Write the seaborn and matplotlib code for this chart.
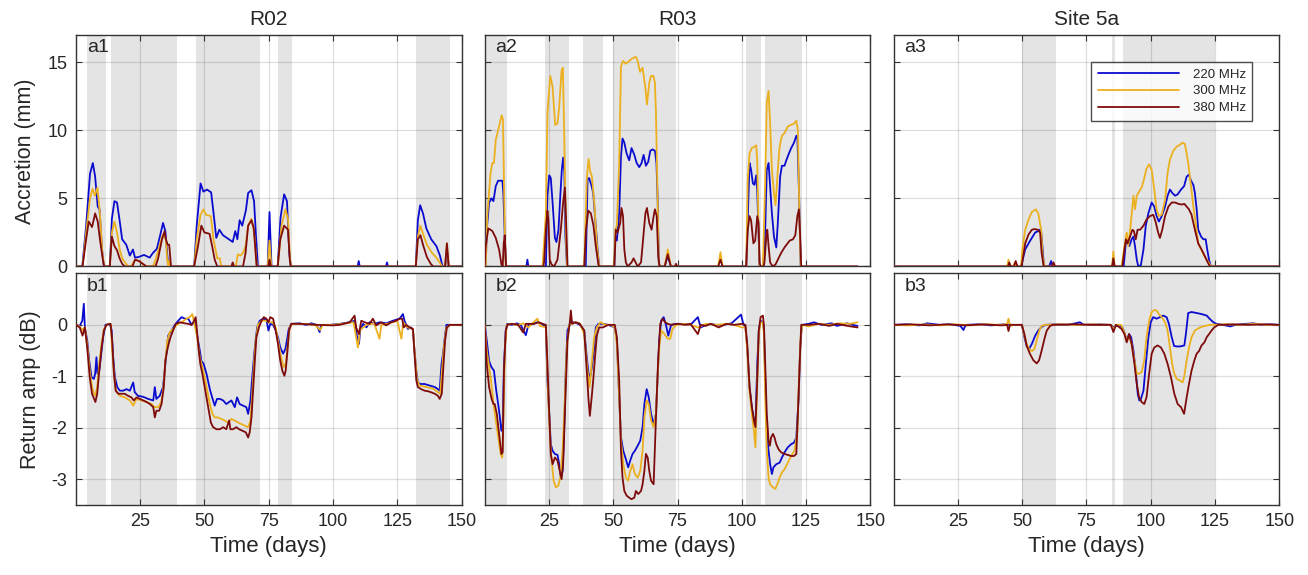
import matplotlib
matplotlib.use("Agg")
import matplotlib.pyplot as plt
import seaborn as sns
import pandas as pd

# ---------------- data ----------------
sites = ["R02", "R03", "Site 5a"]
freqs = ["220 MHz", "300 MHz", "380 MHz"]
xticks = [25, 50, 75, 100, 125, 150]
acc_ticks = [0, 5, 10, 15]
amp_ticks = [-3, -2, -1, 0]

# shaded periods (days)
r02_spans = [(4.4, 11.9), (13.5, 39.4), (46.6, 71.6), (78.5, 83.9), (132.1, 145.7)]
r03_spans = [(0, 8.8), (23.5, 32.9), (38.3, 45.9), (50, 74.5), (101.6, 107.5), (109.1, 123.3)]
s5_spans = [(49.9, 63.1), (84.9, 86.2), (89.1, 125.0)]

# accretion (mm)  (day, value)
r02_acc_220 = [(0,0),(2.5,0),(4,3.0),(5.5,6.8),(6.6,7.6),(7.5,6.6),(8.5,4.4),(9.2,4.2),(10.2,1.2),(10.9,0),(13.2,0),(14,3.5),(15,4.8),(16,4.7),(17,3.4),(18,2.0),(19.6,1.6),(21,0.8),(22.2,1.25),(23,0.65),(24.5,0.7),(26.5,0.85),(28.7,0.65),(30,1.0),(31.5,1.3),(32.8,2.3),(33.9,3.2),(34.8,2.6),(35.8,0.3),(36.4,0),(46,0),(47,3.0),(48.5,6.1),(49.6,5.5),(51,5.65),(52.6,5.45),(53.5,4.0),(54.6,2.1),(55.8,2.7),(57.2,2.3),(59.5,2.0),(61,1.8),(62,2.6),(62.8,2.0),(63.7,3.4),(64.7,3.0),(66.1,4.1),(67,5.4),(68.3,5.6),(69.3,4.8),(70,2.4),(70.8,0),(74.6,0),(75.3,4.0),(76.1,0),(78.5,0),(79.6,3.6),(81,5.3),(82.1,4.8),(83,1.0),(83.6,0),(109.6,0),(110,0.4),(110.4,0),(120.6,0),(121,0.3),(121.4,0),(132.2,0),(133,3.4),(133.9,4.5),(135,3.9),(136.3,2.8),(138.2,2.0),(140.2,1.5),(141.6,0.8),(142.6,0),(143.6,0),(144.3,1.3),(145,0),(150,0)]
r02_acc_300 = [(0,0),(2.6,0),(4,2.5),(5.5,5.0),(6.5,5.7),(7.4,5.2),(8.4,5.8),(9.3,4.0),(10.3,1.0),(11,0),(13.2,0),(14,2.5),(15,3.3),(16,2.5),(17,1.3),(18,0.6),(19.5,0.2),(20.5,0),(21.5,0),(22.5,0.35),(23.5,0.5),(25,0.35),(26.5,0.1),(27.5,0),(30,0),(31,0.5),(32.5,1.5),(33.8,2.3),(35,2.0),(35.5,0.5),(36,0),(36.4,0.5),(36.8,0),(46,0),(47,2.0),(48.5,3.8),(49.6,4.2),(50.6,3.8),(52.5,3.7),(53.5,2.0),(55,0.6),(56,0.6),(56.5,0),(60.5,0),(61,0.2),(61.5,0),(62.2,0),(63,0.9),(64,0.8),(65,1.0),(66,1.5),(67,3.0),(68.3,3.5),(69.3,2.5),(70.4,0),(74.6,0),(75.3,1.9),(76,0),(78.5,0),(80,3.0),(81.5,4.2),(82.5,3.5),(83.3,0.5),(83.8,0),(132.2,0),(133,2.2),(134,3.0),(135,2.4),(136.5,1.6),(138.5,1.0),(140,0.7),(141.5,0.3),(142.5,0),(143.6,0),(144.3,1.7),(145,0),(150,0)]
r02_acc_380 = [(0,0),(2.6,0),(4,2.0),(5,3.3),(6.3,2.9),(7.5,3.9),(8.5,3.3),(9.5,1.8),(10.5,0.5),(11,0),(13.2,0),(14,2.2),(15,1.5),(16,1.2),(17,0.6),(18,0.2),(19,0),(22,0),(23,0.5),(24.5,0.4),(26,0.2),(27.5,0),(31,0),(32,0.6),(33.5,2.0),(34.5,2.6),(35,2.0),(35.7,1.6),(36.3,1.6),(37,0),(46,0),(47.5,1.5),(48.8,3.0),(50,2.5),(52,2.4),(53,1.5),(54,0.5),(55,0),(60.5,0),(61,0.3),(61.5,0),(65,0),(66,1.0),(67,3.0),(68.3,3.4),(69.2,2.8),(70.3,0),(74.8,0),(75.3,0.5),(75.9,0),(78.5,0),(79.5,2.0),(81,3.0),(82.5,2.7),(83.2,0.5),(83.6,0),(132.2,0),(133,2.0),(134,2.3),(135,1.6),(136.5,0.7),(138,0.2),(139,0),(143.6,0),(144.3,1.7),(145,0),(150,0)]

r03_acc_220 = [(0,0),(0.4,0),(0.8,2.7),(1.7,4.7),(2.7,5.0),(3.4,4.8),(4.3,5.9),(5.2,6.3),(6.9,6.3),(7.3,5.2),(7.8,2.2),(8.3,0),(16.2,0),(16.6,0.5),(17,0),(23.8,0),(24.4,5.2),(25.1,6.7),(25.7,6.5),(26.4,4.7),(27.3,2.1),(27.9,1.8),(28.7,2.7),(29.4,5.2),(30,7.1),(30.5,8.0),(31,6.9),(31.4,2.2),(32,0),(39.3,0),(40,6.4),(40.6,6.5),(41.6,5.9),(42.2,5.4),(42.9,3.7),(43.9,1.25),(44.5,0),(50.4,0),(50.8,2.2),(51.4,1.9),(52.3,3.9),(53,8.1),(53.6,9.4),(54.3,9.1),(55.2,8.3),(56.2,7.8),(57.1,8.7),(58.2,8.2),(59.1,7.6),(60.1,7.3),(61,7.6),(61.8,8.2),(62.7,7.4),(63.6,7.7),(64.4,8.5),(65.3,8.6),(66.2,8.5),(66.8,7.6),(67.3,4.7),(67.7,0.3),(68.1,0),(70,0),(71.2,0.8),(72.4,0),(101.7,0),(102.3,3.5),(103,7.6),(103.6,7.1),(104.3,6.1),(104.9,6.0),(105.6,6.7),(106,5.5),(106.5,2.5),(106.9,0),(108.3,0),(109.1,2.7),(109.7,7.1),(110.4,7.6),(111,5.9),(111.7,3.9),(112.5,2.2),(113.4,1.4),(114,3.2),(114.9,6.6),(115.6,7.4),(116.6,7.4),(117.3,7.8),(118.3,8.3),(119.2,8.7),(120.3,9.1),(121.2,9.6),(121.6,9.6),(122.3,5.0),(122.9,0),(145,0)]
r03_acc_300 = [(0,0),(0.4,0),(1.0,3.7),(2.3,6.9),(3.0,7.6),(3.6,7.6),(4.3,9.3),(5.6,10.3),(6.6,11.1),(7.1,10.8),(7.8,2.7),(8.2,0),(22.5,0),(23.8,3.9),(24.4,11.3),(25.5,14.0),(26.4,13.2),(27.4,10.4),(28.3,10.5),(29,11.8),(29.9,14.4),(30.4,14.6),(30.9,10.0),(31.6,2.2),(32,0),(38.7,0),(39.7,6.4),(40.4,7.9),(41,7.0),(41.7,6.6),(42.6,4.7),(43.6,1.7),(44.3,0.3),(44.7,0),(50.3,0),(50.8,2.7),(51.4,3.0),(52.3,7.6),(53,14.7),(53.8,15.1),(54.9,14.9),(56.2,15.1),(57.5,15.3),(58.8,15.4),(59.5,15.1),(60.4,14.3),(61.4,14.6),(62.5,13.1),(63.1,11.9),(64,13.5),(64.7,14.0),(65.6,14.0),(66.2,13.5),(66.6,11.3),(67.3,4.4),(67.7,0.3),(68.1,0),(70,0),(71.2,1.25),(72.4,0),(90.8,0),(91.7,1.05),(92.5,0),(101.7,0),(102.3,6.4),(103,8.3),(103.9,8.7),(104.9,8.8),(105.6,8.9),(106,7.6),(106.5,2.7),(106.9,0),(108.2,0),(109.1,6.4),(109.7,12.0),(110.4,12.9),(111,10.5),(111.7,7.1),(112.5,5.4),(113.1,4.5),(114,7.1),(114.7,8.8),(115.6,9.6),(116.6,9.8),(117.9,10.3),(119.2,10.4),(120.3,10.5),(121.2,10.7),(121.8,10.0),(122.5,2.7),(122.9,0),(145,0)]
r03_acc_380 = [(0,0),(0.4,1.5),(1.4,2.8),(3.0,2.6),(4.3,2.1),(5.6,1.25),(6.5,0.15),(7,0),(7.4,1.7),(7.8,2.3),(8.3,0),(22.8,0),(23.1,0.3),(23.8,2.7),(24.4,4.1),(24.8,3.4),(25.3,0.5),(26,0.15),(27,0),(28.3,0.5),(29.6,2.7),(30.5,4.7),(31.2,5.8),(31.6,3.7),(32.2,0),(38.7,0),(39.4,2.7),(40.3,4.1),(41.3,3.9),(42.3,3.0),(43.2,1.5),(44.2,0.15),(44.6,0),(50.4,0),(51,2.7),(51.7,2.5),(52.7,3.2),(53.2,4.3),(53.8,3.7),(54.3,1.25),(54.9,0.3),(55.6,0),(57.1,0.3),(57.9,0.6),(58.7,0.3),(59.5,0),(60.8,0.3),(61.7,2.2),(62.5,3.9),(63.1,4.3),(64,3.2),(64.9,2.7),(65.7,3.7),(66.2,4.2),(66.9,3.7),(67.5,0.75),(68,0),(70,0),(71.2,0.9),(72.4,0),(74,0),(74.4,0.2),(74.8,0),(90.8,0),(91.7,0.5),(92.5,0),(101.7,0),(102.3,2.7),(103,3.7),(103.6,3.4),(104.5,1.7),(105.2,1.9),(106,3.7),(106.5,3.2),(106.9,0.3),(107.3,0),(108.5,0),(108.8,0.3),(109.5,2.2),(109.9,2.7),(110.4,1.5),(111,0.3),(112,0),(113.1,0.15),(114,0.5),(115.3,1.0),(116.6,1.4),(118.6,1.9),(119.9,2.0),(120.8,2.3),(121.6,3.7),(122.2,4.2),(122.7,2.2),(123.1,0),(145,0)]

s5_acc_220 = [(0,0),(49.6,0),(51.2,1.25),(52.5,1.7),(53.8,2.1),(55.1,2.5),(56.3,2.6),(57.3,2.75),(57.9,1.5),(58.5,0),(60.5,0),(61.3,0.4),(61.9,0),(85,0),(85.5,0.3),(86,0),(89.5,0),(90.3,1.7),(91,2.1),(91.7,1.5),(92.6,2.0),(93.3,2.2),(93.9,1.5),(94.6,0.5),(95.2,0),(96.2,0.1),(97.2,1.25),(98.1,3.0),(99.1,3.9),(100.4,4.7),(101.4,4.4),(102.3,3.7),(103.2,3.3),(104.3,3.7),(105.6,4.4),(106.6,5.2),(107.5,5.65),(108.4,5.4),(109.5,5.2),(110.5,5.3),(111.8,5.65),(113,5.9),(114,6.6),(114.9,6.75),(115.7,6.3),(116.6,6.0),(117.2,5.4),(117.9,4.2),(118.5,2.7),(119.6,2.2),(120.5,2.0),(121.4,2.0),(122,1.25),(122.7,0.5),(123.4,0),(150,0)]
s5_acc_300 = [(0,0),(44.2,0),(44.7,0.5),(45.3,0),(46.5,0),(47.2,0.3),(47.8,0),(49.6,0),(50.1,1.25),(51.2,2.7),(52.5,3.45),(53.8,4.0),(55.3,4.2),(56.3,3.9),(57.4,2.7),(58,0.75),(58.7,0),(85,0),(85.5,1.1),(86,0),(88.7,0),(89.8,1.5),(90.7,2.5),(91.3,1.5),(92.2,3.0),(93.3,5.2),(93.9,4.2),(94.6,5.2),(95.5,5.5),(96.5,5.8),(97.4,6.4),(98.4,7.2),(99.4,7.5),(100.4,7.1),(101.4,5.65),(102.3,4.2),(103.2,3.7),(104.3,3.8),(105.6,4.9),(106.6,6.9),(107.5,7.85),(108.8,8.5),(110.1,8.8),(111.4,8.95),(112.4,9.1),(113.3,9.0),(114,8.3),(114.6,7.6),(115.7,5.9),(116.6,4.4),(117.5,3.2),(118.5,1.7),(119.6,1.25),(120.9,0.75),(121.8,0.5),(122.7,0.27),(123.4,0),(150,0)]
s5_acc_380 = [(0,0),(44.5,0),(45,0.3),(45.6,0),(46.8,0),(47.5,0.4),(48.2,0),(49.8,0),(51.2,1.7),(52.5,2.35),(53.8,2.7),(54.8,2.75),(56.1,2.7),(57,2.5),(57.6,1.0),(58.4,0),(61.5,0),(62.2,0.3),(62.8,0),(85,0),(85.5,0.6),(86,0),(89,0),(89.8,1.25),(90.4,2.0),(91,1.7),(92,2.2),(92.9,2.7),(93.5,2.6),(94.2,2.0),(94.9,2.7),(95.9,2.7),(97.2,3.0),(98.4,3.45),(99.7,3.7),(101,3.8),(101.9,3.3),(102.9,2.5),(103.6,2.1),(104.5,2.7),(105.6,3.7),(106.9,4.4),(108.2,4.7),(109.5,4.7),(110.8,4.6),(112.1,4.55),(113.1,4.6),(114,4.4),(114.9,4.2),(115.9,3.8),(117.2,2.7),(118.5,1.7),(119.8,1.25),(121.1,0.75),(122.2,0.3),(123.1,0),(150,0)]

# return amplitude (dB)  (day, value)
r02_amp_220 = [(0,0),(1.5,-0.02),(2.5,0.08),(3.1,0.41),(3.5,-0.05),(4.4,-0.3),(5.2,-0.7),(6.1,-1.02),(7,-1.05),(7.5,-0.95),(8,-0.63),(8.4,-0.95),(9.1,-0.89),(9.7,-0.63),(10.6,-0.24),(11.5,0),(13.2,0.02),(13.9,-0.1),(14.5,-0.63),(15.2,-1.02),(16.1,-1.21),(17.1,-1.28),(18.4,-1.28),(19.7,-1.25),(21,-1.28),(22.3,-1.12),(22.9,-1.31),(24.2,-1.38),(26.2,-1.4),(28.1,-1.44),(30.1,-1.47),(30.7,-1.21),(31.3,-1.44),(32.6,-1.38),(33.9,-1.21),(34.8,-0.76),(35.9,-0.21),(36.8,-0.14),(37.6,-0.08),(38.5,0),(39.8,0.08),(41.1,0.15),(42.4,0.12),(43.7,0.12),(45,0),(46.2,0.08),(47.5,-0.3),(48.2,-0.5),(48.8,-0.7),(49.7,-0.76),(50.8,-0.95),(52.1,-1.25),(53,-1.41),(54,-1.57),(54.9,-1.44),(56,-1.44),(57.3,-1.47),(58.5,-1.54),(59.6,-1.5),(60.5,-1.47),(61.8,-1.6),(62.7,-1.41),(63.7,-1.54),(65,-1.57),(66.3,-1.6),(67,-1.73),(67.9,-1.47),(68.7,-0.95),(69.6,-0.44),(70.5,-0.05),(71.5,0.08),(72.8,0.12),(74.1,0.1),(74.9,-0.11),(75.6,0.02),(76.7,0),(77.7,-0.1),(78.6,-0.24),(79.5,-0.44),(80.6,-0.56),(81.5,-0.47),(82.1,-0.3),(82.8,-0.08),(83.8,0.02),(87,0.03),(89.5,0),(91.6,0.03),(93.6,0),(94.8,-0.14),(95.4,0),(98.9,0),(102.6,0.02),(106.5,0.05),(108.4,0.08),(109.3,-0.21),(110.1,-0.37),(110.6,-0.1),(111.7,0.02),(113,-0.05),(114.2,0.05),(116.2,0.02),(118.1,0.05),(120.7,0.03),(123.3,0.08),(125.9,0.12),(127.2,0.21),(127.8,0.08),(129.1,-0.08),(130.4,-0.05),(131.1,-0.1),(131.7,-0.5),(132.4,-0.89),(133,-1.12),(134,-1.15),(135.6,-1.15),(137.6,-1.18),(139.6,-1.21),(140.8,-1.25),(141.5,-1.28),(142.2,-0.76),(142.8,-0.56),(143.5,-0.24),(144.1,0),(145.5,0),(150,0)]
r02_amp_300 = [(0,0),(1.5,-0.03),(2.6,-0.1),(3.5,-0.05),(4.4,-0.37),(5.4,-0.89),(6.3,-1.21),(7.1,-1.34),(7.7,-1.38),(8.4,-1.15),(9.1,-0.76),(10,-0.37),(10.9,-0.08),(11.9,0),(13.5,0.02),(14.5,-0.76),(15.5,-1.28),(17.1,-1.38),(19,-1.41),(21,-1.47),(22.3,-1.57),(23.6,-1.44),(25.5,-1.47),(27.5,-1.5),(29.4,-1.54),(30.7,-1.6),(32,-1.6),(33.3,-1.49),(34.2,-1.14),(34.8,-0.7),(35.6,-0.3),(36.5,-0.14),(37.8,-0.08),(39.1,0),(41.1,0.05),(43,0.12),(44.3,0.15),(45.3,0.21),(46.2,0),(47.2,-0.24),(48.2,-0.63),(49.2,-0.82),(50.1,-1.02),(51.1,-1.28),(52.1,-1.54),(53.1,-1.73),(54,-1.8),(55.3,-1.8),(56.6,-1.83),(57.9,-1.86),(59.2,-1.9),(60.5,-1.83),(61.8,-1.86),(63.1,-1.9),(64.4,-1.93),(65.7,-1.96),(67,-1.99),(67.9,-1.86),(68.5,-1.41),(69.2,-0.82),(69.8,-0.37),(70.8,0),(72.2,0.08),(74,0.08),(75,0.05),(76.5,0.05),(77.7,-0.05),(78.6,-0.3),(79.8,-0.63),(80.8,-0.82),(81.6,-0.76),(82.3,-0.44),(83.2,-0.03),(84.5,0.02),(88,0.02),(93,0),(95,-0.1),(96,0),(100,0),(105,0.03),(108,0.05),(109.7,-0.44),(110.5,-0.1),(113,0),(116,0.03),(118.1,-0.27),(118.8,0),(122,0.03),(125,0.08),(126.6,-0.27),(127.3,0.05),(129,-0.05),(131.1,-0.08),(131.7,-0.5),(132.7,-1.08),(133.7,-1.18),(136.3,-1.21),(138.9,-1.24),(140.8,-1.31),(141.7,-1.34),(142.3,-0.95),(143.1,-0.44),(144.1,-0.05),(145.5,0),(150,0)]
r02_amp_380 = [(0,0),(1.5,-0.05),(2.6,-0.21),(3.5,-0.05),(4.4,-0.44),(5.4,-1.02),(6.3,-1.34),(7.1,-1.44),(7.6,-1.5),(8.3,-1.34),(9.1,-0.89),(10,-0.44),(10.9,-0.11),(11.9,0),(13.5,0.02),(14.1,-0.3),(14.8,-0.95),(15.5,-1.28),(16.5,-1.34),(17.7,-1.34),(19,-1.34),(20.3,-1.38),(21.6,-1.41),(22.5,-1.47),(23.6,-1.41),(24.9,-1.44),(26.2,-1.47),(27.5,-1.5),(28.8,-1.54),(30.1,-1.6),(30.7,-1.8),(31.3,-1.67),(32.4,-1.67),(33.3,-1.54),(34.2,-1.21),(34.8,-0.7),(35.5,-0.5),(36.1,-0.37),(36.8,-0.24),(37.8,-0.11),(38.9,0.02),(40.4,0.05),(42.4,0.03),(43.7,0.02),(45,0),(45.7,0.05),(46.6,0.15),(47.2,-0.18),(47.8,-0.5),(48.4,-0.76),(49.2,-0.95),(49.9,-1.15),(50.8,-1.41),(51.7,-1.67),(52.5,-1.9),(53.4,-1.99),(54.7,-2.03),(56,-2.03),(57.3,-1.99),(58.5,-2.03),(59.6,-1.86),(60.1,-2.03),(61.1,-2.03),(62.4,-1.99),(63.5,-2.03),(64.8,-2.06),(66.1,-2.09),(67,-2.19),(67.6,-2.09),(68.3,-1.8),(68.9,-1.28),(69.6,-0.7),(70.2,-0.24),(71.2,-0.05),(72.2,0.08),(73.1,0.15),(74.1,0.12),(74.9,0.05),(75.6,0.15),(76.7,0.12),(77.7,-0.11),(78.6,-0.37),(79.5,-0.7),(80.3,-0.89),(81.1,-0.99),(81.6,-0.89),(82.3,-0.5),(82.9,-0.11),(83.8,0.02),(87,0.02),(93.6,0),(100,-0.01),(102.6,0),(106.5,0.05),(108.4,0.18),(109,-0.05),(110.1,-0.18),(111,0.08),(112.3,0.05),(114.2,0.02),(115.5,0.12),(116.8,-0.01),(118.8,0.05),(120.7,-0.01),(122.6,0.05),(124.6,0.08),(125.9,0.12),(126.9,0.12),(127.5,-0.05),(128.5,0),(129.8,-0.05),(131.1,-0.08),(131.7,-0.56),(132.4,-1.08),(133,-1.21),(134.3,-1.25),(135.6,-1.28),(136.9,-1.29),(138.1,-1.31),(139.6,-1.34),(140.8,-1.38),(141.5,-1.44),(142.3,-1.34),(143,-0.76),(143.6,-0.3),(144.3,-0.05),(145.5,0),(150,0)]

r03_amp_220 = [(0,0),(0.8,-0.3),(1.7,-0.7),(2.6,-0.82),(3.6,-0.89),(4.5,-1.28),(5.6,-1.67),(6.5,-2.06),(7,-1.93),(7.5,-0.76),(8.2,-0.11),(8.8,0.02),(10.5,0),(12.5,0.03),(14,0),(16,-0.2),(17,0),(19,0.02),(20.5,0.05),(22,0.03),(23.8,-0.05),(24.4,-1.08),(25.1,-1.73),(25.7,-2.32),(26.4,-2.45),(27.3,-2.51),(28.3,-2.53),(29,-2.71),(29.6,-2.97),(30.3,-2.84),(30.9,-2.06),(31.6,-0.76),(32.2,-0.11),(33.5,0.05),(35,0.05),(37,0),(38.7,-0.11),(39.7,-0.63),(40.4,-0.95),(41,-1.02),(41.7,-0.82),(42.6,-0.44),(43.2,-0.05),(44.2,0.02),(46,0.02),(48,0),(50.6,-0.05),(51.4,-0.3),(52.3,-1.41),(53,-2.19),(53.9,-2.45),(54.9,-2.61),(55.8,-2.77),(56.6,-2.64),(57.5,-2.51),(58.4,-2.45),(59.5,-2.35),(60.5,-2.25),(61.4,-1.99),(62.1,-1.54),(63,-1.25),(63.8,-1.41),(64.7,-1.73),(65.7,-1.93),(66.6,-1.73),(67.3,-0.95),(67.9,-0.3),(68.6,0.08),(69.6,0.15),(70.5,0),(71.4,-0.21),(72.5,0),(74.4,0.02),(77,0.02),(80,0),(82.9,0.15),(84,-0.05),(87,0.02),(90,0),(93,0),(96,0.03),(99.7,0.2),(100.5,0.03),(101.4,-0.05),(102.1,-0.44),(103,-1.21),(103.9,-1.6),(104.7,-1.86),(105.3,-1.93),(106,-0.76),(106.6,-0.11),(107.3,0.08),(108.2,0.05),(108.6,-0.11),(109.1,-1.08),(109.7,-2.06),(110.4,-2.45),(111,-2.71),(111.7,-2.9),(112.3,-2.77),(113.4,-2.71),(114.7,-2.68),(115.6,-2.58),(116.6,-2.48),(117.9,-2.38),(119.2,-2.32),(120.3,-2.29),(121.2,-2.19),(122.1,-1.41),(122.7,-0.44),(123.4,0),(126,0.02),(128,0.05),(131,0),(135,0.03),(137,-0.02),(141,0.03),(143,0),(145,-0.02)]
r03_amp_300 = [(0,0),(0.8,-0.5),(2.3,-1.02),(3.6,-1.6),(4.9,-2.06),(6.2,-2.51),(6.8,-2.58),(7.3,-1.73),(7.9,-0.44),(8.6,0),(10.5,0.02),(13,0),(15,0.03),(17,-0.05),(19,0.05),(20.5,0.12),(21.5,-0.02),(23.8,-0.05),(24.7,-1.41),(25.7,-2.45),(26.8,-3.03),(27.7,-3.16),(28.6,-3.13),(29.4,-2.97),(30.3,-2.45),(31.2,-1.41),(31.9,-0.44),(32.9,0),(35,0.05),(37,0.03),(38.7,-0.18),(40,-0.89),(40.8,-1.21),(41.6,-0.76),(42.6,-0.24),(43.6,-0.05),(45,0.05),(47,0),(49,0),(50.6,-0.05),(51.4,-0.37),(52.3,-1.41),(53,-2.25),(53.9,-2.71),(54.9,-2.97),(55.8,-3.03),(56.6,-2.84),(57.5,-2.71),(58.4,-2.9),(59.5,-2.97),(60.5,-2.84),(61.4,-2.45),(62.1,-1.8),(63,-1.47),(63.8,-1.54),(64.7,-1.86),(65.7,-1.99),(66.6,-1.73),(67.3,-0.95),(67.9,-0.44),(68.6,-0.11),(69.9,-0.18),(71.2,-0.27),(72.2,-0.27),(73,-0.08),(74.5,0),(77,0.02),(80,0),(83,-0.05),(86,0.02),(90,0),(94,0.02),(97,0),(100,-0.05),(101.4,-0.05),(102.1,-0.5),(103,-1.28),(103.9,-1.73),(104.7,-2.06),(105.3,-2.38),(106,-1.08),(106.6,-0.18),(107.3,0.05),(108.2,0.05),(108.6,-0.18),(109.1,-1.41),(109.7,-2.45),(110.4,-2.97),(111,-3.1),(112.1,-3.16),(113,-3.19),(113.8,-3.1),(114.7,-2.97),(115.6,-2.87),(116.6,-2.81),(117.9,-2.68),(119.2,-2.55),(120.5,-2.45),(121.6,-2.06),(122.2,-1.08),(122.9,-0.24),(123.5,0),(126,-0.03),(130,0.02),(134,0),(138,0.03),(142,0.02),(145,0.05)]
r03_amp_380 = [(0,0),(0.8,-0.76),(1.7,-1.21),(2.7,-1.44),(3.4,-1.54),(3.9,-1.54),(4.7,-1.73),(5.6,-2.12),(6.5,-2.51),(7,-2.48),(7.5,-0.89),(8.2,-0.11),(8.8,0),(10.5,0.02),(13,0),(15,-0.15),(16,0.02),(19,0.02),(21,0.05),(22.5,0.02),(23.8,0),(24.4,-0.76),(25.1,-1.73),(25.7,-2.51),(26.4,-2.71),(27.3,-2.58),(28.3,-2.64),(29.2,-2.84),(29.9,-3.0),(30.5,-2.71),(31.3,-1.54),(32.2,-0.3),(33.1,0.05),(33.5,0.28),(34,0.02),(35.5,0.05),(37,0.02),(38.7,-0.11),(39.7,-0.89),(40.4,-1.47),(40.9,-1.77),(41.6,-1.41),(42.2,-1.08),(42.9,-0.63),(43.6,-0.21),(44.5,-0.05),(46,-0.05),(48,0),(50.6,0),(51.4,-0.24),(52.3,-1.08),(53,-2.45),(53.6,-2.97),(54.3,-3.23),(55.2,-3.32),(56.2,-3.36),(57.1,-3.39),(58.2,-3.36),(58.8,-3.23),(59.7,-3.29),(60.8,-3.23),(61.4,-3.1),(62.1,-2.84),(62.7,-2.51),(63.4,-2.58),(64,-2.84),(64.7,-3.03),(65.7,-3.1),(66.2,-2.38),(66.9,-1.41),(67.5,-0.63),(68.3,0.02),(69.2,0.12),(70.2,0.05),(71.2,0.02),(72.5,0),(75,0.02),(78,0),(80,0.02),(82.9,-0.18),(84,0),(86,-0.02),(88,0.02),(91,-0.05),(94,0.02),(97,0),(100,0.02),(101.4,0),(102.1,-0.37),(103,-1.21),(103.9,-1.6),(104.7,-1.86),(105.3,-1.99),(106,-1.08),(106.6,-0.11),(107.3,0.15),(108.2,0.18),(108.6,0),(109.1,-0.76),(109.7,-1.73),(110.4,-2.25),(110.9,-2.35),(111.4,-2.19),(112.1,-2.12),(112.7,-2.19),(113.4,-2.32),(114.3,-2.42),(115.3,-2.48),(116.6,-2.51),(117.9,-2.53),(119.2,-2.55),(120.3,-2.55),(121.2,-2.51),(121.8,-1.73),(122.5,-0.76),(123.1,0),(126,0),(130,0.02),(134,-0.02),(137,0.02),(141,-0.02),(145,-0.05)]

s5_amp_220 = [(0,0),(5,0.01),(10,-0.01),(13,0.03),(18,0),(22,0.01),(26,-0.02),(27.2,-0.1),(28,0),(33,0.01),(38,-0.01),(43,0.01),(46,0),(49.9,0),(50.9,-0.24),(51.8,-0.41),(52.7,-0.47),(53.8,-0.37),(55.1,-0.21),(56.3,-0.11),(57.6,-0.04),(59,0),(63,0.01),(68,0),(72.5,0.05),(74,0),(80,0.01),(84.5,0),(85.5,-0.05),(87.4,0),(89,-0.05),(89.8,-0.15),(90.7,-0.31),(91.6,-0.18),(92.4,-0.24),(93.3,-0.5),(94.2,-0.9),(95,-1.35),(95.6,-1.47),(96.2,-1.44),(97.2,-1.28),(98.1,-0.77),(99.1,-0.25),(100,0.05),(101,0.15),(102.3,0.12),(103.6,0.15),(104.9,0.18),(106.2,0.15),(107.1,0.02),(108.2,-0.24),(109.1,-0.41),(110.1,-0.42),(111.4,-0.42),(113.1,-0.4),(113.7,-0.18),(114.6,0.23),(115.9,0.25),(117.9,0.23),(119.8,0.21),(121.8,0.18),(123.1,0.11),(124.4,0.05),(125.6,0.02),(128,0),(131,-0.03),(133,0),(137,0.02),(140,0.03),(143,0),(147,0.01),(150,0)]
s5_amp_300 = [(0,0),(6,-0.01),(12,0.01),(18,-0.01),(24,0.01),(30,-0.01),(36,0.01),(42,0),(44.2,0.02),(44.7,0.12),(45.3,-0.02),(47,0),(49.9,0),(50.9,-0.21),(51.8,-0.37),(52.7,-0.47),(53.8,-0.51),(54.8,-0.47),(55.7,-0.3),(56.7,-0.11),(57.6,-0.02),(59,0),(65,0.01),(72,0),(78,0.01),(84.5,0),(85.5,-0.08),(86.5,0),(88.5,0),(89.8,-0.15),(90.7,-0.31),(91.6,-0.21),(92.6,-0.37),(93.7,-0.69),(94.6,-0.95),(95.5,-0.95),(96.5,-0.92),(97.5,-0.69),(98.4,-0.24),(99.4,0.08),(100.4,0.25),(101.4,0.29),(102.3,0.28),(103.2,0.21),(104.3,0.15),(105.6,0.05),(106.6,-0.11),(107.5,-0.44),(108.4,-0.77),(109.2,-0.95),(110.1,-1.05),(111.4,-1.08),(112.4,-1.12),(113,-1.02),(114,-0.69),(114.9,-0.44),(115.9,-0.24),(117.2,-0.11),(119.2,-0.05),(121.1,-0.02),(123.1,0),(130,0.01),(135,0),(140,0.02),(145,0),(150,0)]
s5_amp_380 = [(0,0),(7,0.01),(14,-0.01),(21,0.01),(28,-0.01),(35,0.01),(42,-0.01),(44.2,0),(44.7,-0.12),(45.3,0),(48,0),(49.9,0),(50.9,-0.18),(51.8,-0.41),(53.1,-0.57),(54.4,-0.69),(55.7,-0.75),(56.6,-0.69),(57.6,-0.5),(58.7,-0.27),(59.6,-0.11),(60.9,-0.02),(62,0),(70,0.01),(78,0),(84.5,0),(85.5,-0.14),(86.5,0),(88.7,-0.08),(89.8,-0.18),(90.7,-0.34),(91.6,-0.18),(92.6,-0.37),(93.7,-0.76),(94.6,-1.15),(95.5,-1.41),(96.5,-1.5),(97.5,-1.54),(98.4,-1.41),(99.4,-0.95),(100.4,-0.56),(101.4,-0.44),(102.7,-0.4),(104,-0.44),(105.3,-0.56),(106.6,-0.76),(107.9,-1.02),(109.2,-1.34),(110.5,-1.54),(111.8,-1.6),(113,-1.73),(114,-1.41),(114.9,-1.15),(115.9,-0.89),(117,-0.69),(117.9,-0.56),(118.8,-0.51),(119.8,-0.4),(120.9,-0.34),(121.8,-0.24),(122.7,-0.18),(123.7,-0.11),(124.7,-0.05),(126.3,0),(132,0.01),(138,0),(144,0.01),(150,0)]

# ---------------- style ----------------
sns.set_style("ticks")
plt.rcParams["font.family"] = ["Liberation Sans", "DejaVu Sans"]
plt.rcParams["axes.axisbelow"] = "line"
plt.rcParams["axes.unicode_minus"] = False

colors = ["#0b0bd0", "#ecb01f", "#7e0b0b"]
shade = "#e4e4e4"

acc = {"R02": [r02_acc_220, r02_acc_300, r02_acc_380],
       "R03": [r03_acc_220, r03_acc_300, r03_acc_380],
       "Site 5a": [s5_acc_220, s5_acc_300, s5_acc_380]}
amp = {"R02": [r02_amp_220, r02_amp_300, r02_amp_380],
       "R03": [r03_amp_220, r03_amp_300, r03_amp_380],
       "Site 5a": [s5_amp_220, s5_amp_300, s5_amp_380]}
spans = {"R02": r02_spans, "R03": r03_spans, "Site 5a": s5_spans}

fig, axes = plt.subplots(2, 3, figsize=(13.08, 5.75), dpi=100)
fig.subplots_adjust(left=0.058, right=0.978, top=0.939, bottom=0.122,
                    wspace=0.06, hspace=0.03)

def style_ax(ax):
    for s in ax.spines.values():
        s.set_visible(True)
        s.set_color("#333333")
        s.set_linewidth(1.0)
    ax.tick_params(direction="in", top=True, right=True, length=4,
                   width=0.8, color="#333333", labelsize=13, pad=6)
    ax.grid(True, color="black", alpha=0.13, linewidth=0.9)
    ax.set_xlim(0, 150)
    ax.set_xticks(xticks)

for j, site in enumerate(sites):
    for i, (data, ylim, yt) in enumerate([(acc[site], (0, 17), acc_ticks),
                                           (amp[site], (-3.5, 1.0), amp_ticks)]):
        ax = axes[i, j]
        for (a, b) in spans[site]:
            ax.axvspan(a, b, color=shade, lw=0, zorder=0.5)
        for k, series in enumerate(data):
            df = pd.DataFrame(series, columns=["day", "val"])
            sns.lineplot(data=df, x="day", y="val", ax=ax, color=colors[k],
                         lw=1.3, estimator=None, sort=False, label=freqs[k],
                         legend=False, zorder=3)
        style_ax(ax)
        ax.set_ylim(*ylim)
        ax.set_yticks(yt)
        ax.set_xlabel("")
        ax.set_ylabel("")
        if j > 0:
            ax.set_yticklabels([])
        if i == 0:
            ax.set_xticklabels([])
            ax.set_title(site, fontsize=15, pad=7)
        else:
            ax.set_xlabel("Time (days)", fontsize=16, labelpad=4)
        ax.text(0.028, 0.945, f"{'ab'[i]}{j+1}", transform=ax.transAxes,
                fontsize=14, va="center", ha="left")

axes[0, 0].set_ylabel("Accretion (mm)", fontsize=15.5, labelpad=8)
axes[1, 0].set_ylabel("Return amp (dB)", fontsize=15.5, labelpad=8)

handles = axes[0, 2].get_lines()[:3]
leg = axes[0, 2].legend(handles, freqs, loc="upper right",
                        bbox_to_anchor=(0.93, 0.885), borderaxespad=0,
                        fontsize=9.5, frameon=True, fancybox=False,
                        handlelength=6.2, borderpad=0.5, labelspacing=0.35,
                        handletextpad=1.0)
leg.get_frame().set_edgecolor("#222222")
leg.get_frame().set_linewidth(1.0)

fig.savefig("out.png", dpi=100)
